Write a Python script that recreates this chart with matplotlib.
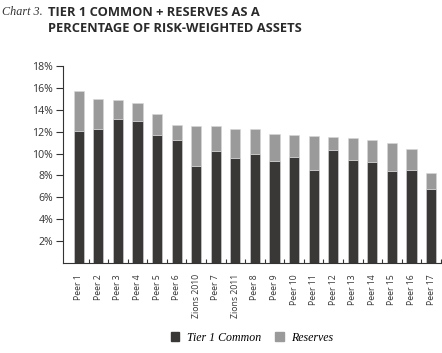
import numpy as np
import matplotlib
matplotlib.use("Agg")
from matplotlib import pyplot as plt
from matplotlib.patches import Patch

categories = ["Peer 1", "Peer 2", "Peer 3", "Peer 4", "Peer 5", "Peer 6", "Zions 2010",
              "Peer 7", "Zions 2011", "Peer 8", "Peer 9", "Peer 10", "Peer 11", "Peer 12",
              "Peer 13", "Peer 14", "Peer 15", "Peer 16", "Peer 17"]
tier1 = [12.1, 12.2, 13.2, 13.0, 11.7, 11.2, 8.9, 10.2, 9.55, 10.0, 9.3, 9.7,
         8.5, 10.3, 9.45, 9.2, 8.45, 8.5, 6.8]
total = [15.7, 14.95, 14.85, 14.6, 13.65, 12.65, 12.55, 12.5, 12.25, 12.2, 11.75, 11.7,
         11.6, 11.5, 11.4, 11.2, 11.0, 10.4, 8.2]
reserves = [t - c for t, c in zip(total, tier1)]
yticks = [2, 4, 6, 8, 10, 12, 14, 16, 18]

dark = '#3a3737'
grey = '#9a9a9a'
sans = 'Open Sans'
serif = 'Liberation Serif'

fig = plt.figure(figsize=(4.42, 3.53), dpi=100)
ax = fig.add_axes([0.1425, 0.255, 0.857, 0.558])

x = np.arange(len(categories))
ax.bar(x, tier1, width=0.52, color=dark, edgecolor='#d8d8d8', linewidth=0.4, zorder=2)
ax.bar(x, reserves, bottom=tier1, width=0.52, color=grey, edgecolor='#d8d8d8',
       linewidth=0.4, zorder=2)

ax.set_ylim(0, 18)
ax.set_xlim(-0.81, 18.55)
ax.set_yticks(yticks)
ax.set_yticklabels([f"{v}%" for v in yticks], fontsize=7.6, family=sans, color='#333333')
ax.set_xticks(x + 0.5)
ax.set_xticklabels([])
ax.tick_params(axis='x', direction='in', length=3, width=0.8, color='#333333')
ax.tick_params(axis='y', direction='out', length=5, width=0.8, color='#333333', pad=2)

for cx, lab in zip(x, categories):
    ax.text(cx, -1.0, lab, rotation=90, ha='center', va='top', fontsize=6.2,
            family=sans, color='#333333')

for s in ['top', 'right']:
    ax.spines[s].set_visible(False)
ax.spines['left'].set_color('#333333')
ax.spines['bottom'].set_color('#333333')

fig.text(0.005, 0.965, "Chart 3.", fontsize=8.7, family=serif, style='italic',
         color='#333333', va='center')
fig.text(0.108, 0.965, "TIER 1 COMMON + RESERVES AS A", fontsize=9.3, family=sans,
         weight='bold', color='#2a2a2a', va='center')
fig.text(0.108, 0.919, "PERCENTAGE OF RISK-WEIGHTED ASSETS", fontsize=9.3, family=sans,
         weight='bold', color='#2a2a2a', va='center')

handles = [Patch(color=dark, label='Tier 1 Common'), Patch(color=grey, label='Reserves')]
fig.legend(handles=handles, loc='center', bbox_to_anchor=(0.57, 0.043), ncol=2,
           frameon=False, prop={'family': serif, 'style': 'italic', 'size': 8.6},
           handlelength=0.7, handleheight=0.7, handletextpad=0.6, columnspacing=1.2)

fig.savefig("out.png", dpi=100)
